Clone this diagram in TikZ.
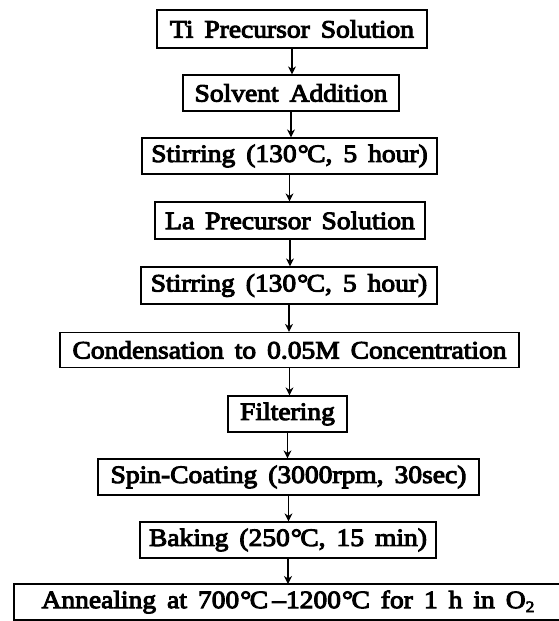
\documentclass[tikz,border=0pt]{standalone}
\usepackage{fontspec}
\setmainfont{Liberation Serif}[FakeStretch=1.1,WordSpace=1.6,FakeBold=4]
\usetikzlibrary{arrows.meta}
\newcommand{\degC}{\kern1pt°\kern-1.5pt C}
\begin{document}
\begin{tikzpicture}[x=1pt,y=-1pt,
  boxline/.style={draw, line width=1.2pt},
  stepbox/.style={boxline, inner sep=0pt, minimum height=36pt,
    font=\fontsize{25}{30}\selectfont},
  plaintext/.style={inner sep=0pt, font=\fontsize{25}{30}\selectfont},
  arr/.style={line width=1.6pt, -{Stealth[length=8pt,width=8pt,inset=2.5pt]}}]
\useasboundingbox (0,0) rectangle (558,621);
\fill[white] (0,0) rectangle (558,621);
\node[stepbox, minimum width=270pt, minimum height=38pt] (n1) at (292,29) {Ti Precursor Solution};
\node[stepbox, minimum width=216pt] (n2) at (291,93) {Solvent Addition};
\node[stepbox, minimum width=295pt] (n3) at (289.5,156) {Stirring (130\degC, 5 hour)};
\node[stepbox, minimum width=270pt, minimum height=37pt] (n4) at (290,220.5) {La Precursor Solution};
\node[stepbox, minimum width=296pt, minimum height=37pt] (n5) at (289,285.5) {Stirring (130\degC, 5 hour)};
\node[stepbox, minimum width=459pt, minimum height=35pt] (n6) at (289.5,350) {Condensation to 0.05M Concentration};
\node[stepbox, minimum width=119pt] (n7) at (287.5,414) {Filtering};
\node[stepbox, minimum width=381pt] (n8) at (288.5,477) {Spin-Coating (3000rpm, 30sec)};
\node[stepbox, minimum width=296pt] (n9) at (288,540) {Baking (250\degC, 15 min)};
\node[plaintext] (n10) at (288,602) {Annealing at 700\degC\,–1200\degC\ for 1 h in O\raisebox{-0.35ex}{\fontsize{16}{16}\selectfont 2}};
\draw[boxline] (14,584) rectangle (620,620);
\coordinate (n10top) at (0,584);
\foreach \a/\b in {n1/n2,n2/n3,n3/n4,n4/n5,n5/n6,n6/n7,n7/n8,n8/n9}
  \draw[arr] (\a.south) -- (\a.south |- \b.north);
\draw[arr] (n9.south) -- (n9.south |- n10top);
\end{tikzpicture}
\end{document}
